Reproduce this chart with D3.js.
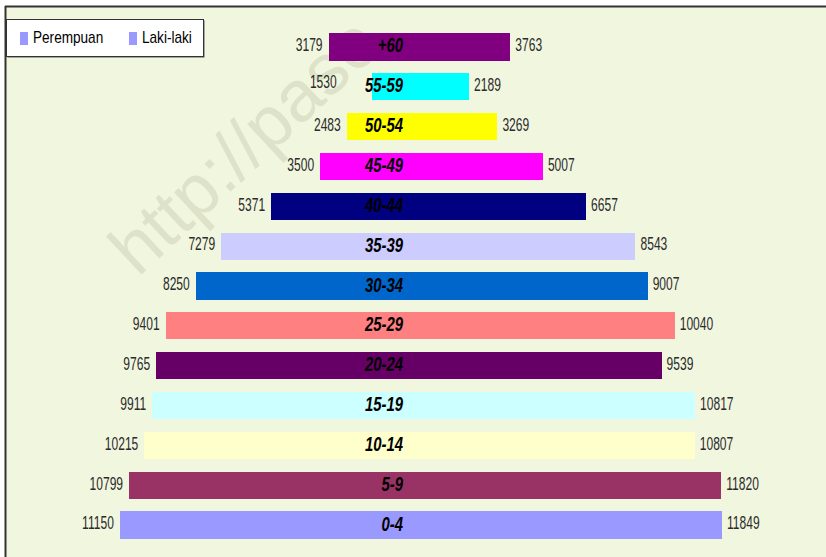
<!DOCTYPE html>
<meta charset="utf-8">
<script src="https://cdn.jsdelivr.net/npm/d3@7"></script>
<style>
body { margin: 0; background: #fff; }
text { font-family: "Liberation Sans", Arial, sans-serif; }
.val { font-size: 18px; fill: #2b2b2b; }
.cat { font-size: 21px; font-weight: bold; font-style: italic; fill: #000; }
.leg { font-size: 16px; fill: #000; }
rect.bar { shape-rendering: crispEdges; }
</style>
<body>
<script>

// age groups, top to bottom
var categories = ["+60", "55-59", "50-54", "45-49", "40-44", "35-39", "30-34",
                  "25-29", "20-24", "15-19", "10-14", "5-9", "0-4"];
var perempuan = [3179, 1530, 2483, 3500, 5371, 7279, 8250, 9401, 9765, 9911, 10215, 10799, 11150];
var lakiLaki  = [3763, 2189, 3269, 5007, 6657, 8543, 9007, 10040, 9539, 10817, 10807, 11820, 11849];
var barColors = ["#800080", "#00ffff", "#ffff00", "#ff00ff", "#000080", "#ccccff", "#0066cc",
                 "#ff8080", "#660066", "#ccffff", "#ffffcc", "#993366", "#9999ff"];
var legendLabels = ["Perempuan", "Laki-laki"];

var width = 826, height = 557;

var svg = d3.select("body").append("svg")
    .attr("width", width)
    .attr("height", height);

// chart area
svg.append("rect")
    .attr("x", 6).attr("y", 7)
    .attr("width", width - 6).attr("height", height - 7)
    .style("fill", "#f1f6df");

// faint watermark
svg.append("text")
    .attr("transform", "translate(138,278) rotate(-43)")
    .style("font-size", "72px")
    .style("fill", "#dde2c8")
    .text("http://pase");

// frame lines
svg.append("line").attr("x1", 5).attr("x2", width).attr("y1", 6.5).attr("y2", 6.5)
    .style("stroke", "#333").style("stroke-width", 2);
svg.append("line").attr("x1", 5.5).attr("x2", 5.5).attr("y1", 6).attr("y2", height)
    .style("stroke", "#333").style("stroke-width", 2);

var x = d3.scaleLinear()
    .domain([-12000, 12000])
    .range([97.6, 726]);

var y = d3.scaleBand()
    .domain(categories)
    .range([27, 545])
    .paddingInner(0.315)
    .paddingOuter(0.1575);

var rows = categories.map(function(c, i) {
  return {cat: c, p: perempuan[i], l: lakiLaki[i], color: barColors[i]};
});

var row = svg.selectAll(".row")
    .data(rows)
    .enter().append("g")
    .attr("class", "row");

// left half (perempuan)
row.append("rect")
    .attr("class", "bar")
    .attr("x", function(d) { return x(-d.p); })
    .attr("y", function(d) { return y(d.cat); })
    .attr("width", function(d) { return x(0) - x(-d.p) + 0.5; })
    .attr("height", y.bandwidth())
    .style("fill", function(d) { return d.color; });

// right half (laki-laki)
row.append("rect")
    .attr("class", "bar")
    .attr("x", x(0))
    .attr("y", function(d) { return y(d.cat); })
    .attr("width", function(d) { return x(d.l) - x(0); })
    .attr("height", y.bandwidth())
    .style("fill", function(d) { return d.color; });

function mid(d) { return y(d.cat) + y.bandwidth() / 2; }

// the 55-59 label on the left sits further out in the original
var leftShift = {"55-59": [-29, -3]};

row.append("g")
    .attr("transform", function(d) {
      var s = leftShift[d.cat] || [0, 0];
      return "translate(" + (x(-d.p) - 6 + s[0]) + "," + (mid(d) + 4.3 + s[1]) + ") scale(0.67,1)";
    })
  .append("text")
    .attr("class", "val")
    .attr("text-anchor", "end")
    .text(function(d) { return d.p; });

row.append("g")
    .attr("transform", function(d) {
      return "translate(" + (x(d.l) + 5) + "," + (mid(d) + 4.3) + ") scale(0.67,1)";
    })
  .append("text")
    .attr("class", "val")
    .text(function(d) { return d.l; });

row.append("g")
    .attr("transform", function(d) {
      return "translate(403," + (mid(d) + 5.5) + ") scale(0.71,1)";
    })
  .append("text")
    .attr("class", "cat")
    .attr("text-anchor", "end")
    .text(function(d) { return d.cat; });

// legend
var legend = svg.append("g");
legend.append("rect")
    .attr("x", 7.5).attr("y", 20.5).attr("width", 197).attr("height", 37)
    .style("fill", "#555");
legend.append("rect")
    .attr("x", 6.5).attr("y", 19.5).attr("width", 197).attr("height", 37)
    .style("fill", "#fff").style("stroke", "#333").style("stroke-width", 1);

var legX = [20, 129];
legendLabels.forEach(function(name, i) {
  legend.append("rect")
      .attr("x", legX[i]).attr("y", 32)
      .attr("width", 8).attr("height", 13)
      .style("fill", "#9999ff");
  legend.append("g")
      .attr("transform", "translate(" + (legX[i] + 13) + ",43) scale(0.85,1)")
    .append("text")
      .attr("class", "leg")
      .text(name);
});

</script>
</body>
